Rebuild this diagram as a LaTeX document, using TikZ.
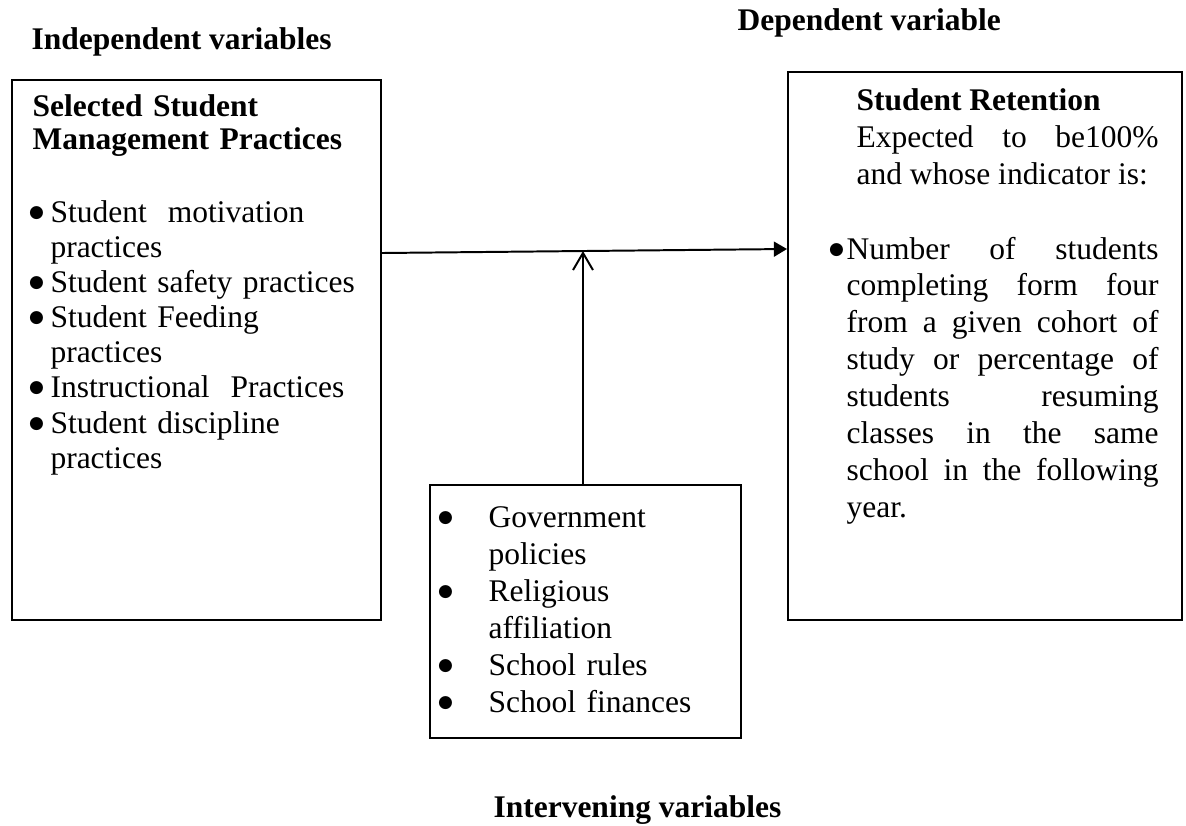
\documentclass[tikz,border=0pt]{standalone}
\usepackage{fontspec}
\setmainfont{Liberation Serif}
\newfontfamily\symfont{DejaVu Sans}
\usetikzlibrary{arrows.meta,calc}
% bullet mark hung to the left of an item's first line
\newcommand{\itembul}[1]{\leavevmode\llap{\raisebox{1.9pt}{\fontsize{6.5}{6.5}\symfont ●}\hspace{#1}}}
\begin{document}
\begin{tikzpicture}[x=0.381pt,y=-0.381pt,
  box/.style={draw,line width=0.75pt,inner sep=0pt,anchor=north west},
  hdr/.style={anchor=base west,inner sep=0pt,font=\fontsize{12}{14}\selectfont\bfseries},
  txt/.style={anchor=base west,inner sep=0pt},
  link/.style={line width=0.75pt}]
\useasboundingbox (0,0) rectangle (1186,825);

% group titles
\node[hdr] (tind) at (31,49) {Independent variables};
\node[hdr] (tdep) at (737,30) {Dependent variable};
\node[hdr] (tmod) at (493,817) {Intervening variables};

% frames
\node[box,minimum width=369*0.381pt,minimum height=540*0.381pt] (ind) at (11,79) {};
\node[box,minimum width=394*0.381pt,minimum height=548*0.381pt] (dep) at (787,71) {};
\node[box,minimum width=311*0.381pt,minimum height=253*0.381pt] (mod) at (429,484) {};

% independent variables
\node[txt,text width=330*0.381pt,align=left,font=\fontsize{12}{12.95}\selectfont\bfseries] (indh) at (32,116)
  {Selected Student\\Management Practices};
\node[txt,text width=325*0.381pt,align=left,font=\fontsize{12}{13.4}\selectfont] (indl) at (50,222)
  {\itembul{2.5pt}Student\ \ motivation\\
   practices\\
   \itembul{2.5pt}Student safety practices\\
   \itembul{2.5pt}Student Feeding\\
   practices\\
   \itembul{2.5pt}Instructional\ \ Practices\\
   \itembul{2.5pt}Student discipline\\
   practices};

% dependent variable
\node[txt,text width=302*0.381pt,align=justify,font=\fontsize{12}{14.1}\selectfont] (deph) at (856,110)
  {\textbf{Student Retention}\\
   Expected to be100\%\linebreak and whose indicator is:};
\node[txt,text width=312*0.381pt,align=justify,font=\fontsize{12}{14.05}\selectfont] (depl) at (846,259)
  {\itembul{1pt}Number of students\linebreak
   completing form four\linebreak
   from a given cohort of\linebreak
   study or percentage of\linebreak
   students resuming\linebreak
   classes in the same\linebreak
   school in the following\linebreak
   year.};

% intervening variables
\node[txt,text width=240*0.381pt,align=left,font=\fontsize{12}{14.1}\selectfont] (modl) at (488,527)
  {\itembul{13.5pt}Government\\
   policies\\
   \itembul{13.5pt}Religious\\
   affiliation\\
   \itembul{13.5pt}School rules\\
   \itembul{13.5pt}School finances};

% connectors
\coordinate (s) at ($(ind.north east)+(0,174)$);
\coordinate (t) at ($(dep.north west)+(0,178)$);
\draw[link,-{Triangle[length=5pt,width=5.7pt]}] (s) -- (t);
\coordinate (f) at ($(mod.north west)!0.492!(mod.north east)$);
\coordinate (j) at ($(s)!0.4963!(t)$);
\draw[link,-{Straight Barb[length=6.5pt,width=7.6pt]}] (f) -- (j);
\end{tikzpicture}
\end{document}
